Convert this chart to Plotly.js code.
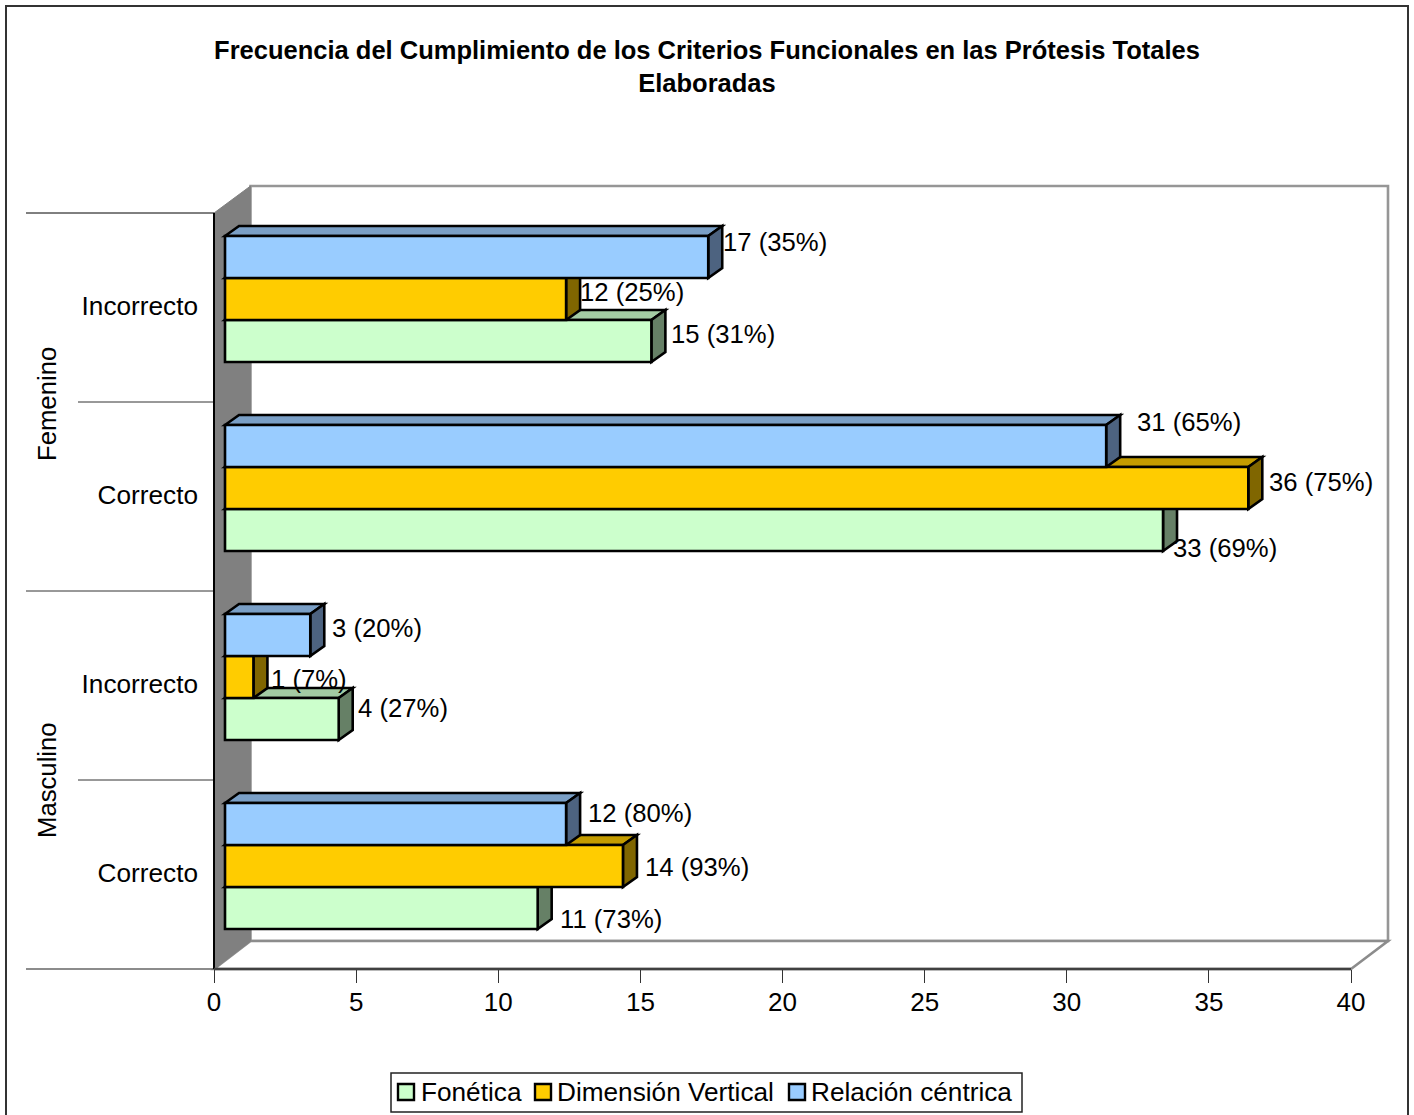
<!DOCTYPE html>
<html><head><meta charset="utf-8">
<script src="https://cdn.plot.ly/plotly-3.0.1.min.js"></script>
<style>html,body{margin:0;padding:0;background:#fff;overflow:hidden}</style>
</head><body><div id="chart" style="width:1414px;height:1115px"></div>
<script>
// ---- data (bottom band first) ----
const categories = ['Correcto','Incorrecto','Correcto','Incorrecto'];
const groups = ['Masculino','Femenino'];
const seriesNames = ['Fonética','Dimensión Vertical','Relación céntrica'];
const fonetica = [11,4,33,15];
const dimension = [14,1,36,12];
const relacion = [12,3,31,17];
const foneticaPct = [73,27,69,31];
const dimensionPct = [93,7,75,25];
const relacionPct = [80,20,65,35];
const xTicks = [0,5,10,15,20,25,30,35,40];

// ---- layout constants (pixels of the page) ----
const W=1414,H=1115,L=214,R=1388,T=186,B=969;
const pxPerUnit=(1351-214)/40, pxPerBand=189;
const depthX=14, depthY=10, wallX=37, wallY=28;
const barShift=11/pxPerUnit, lift=8.5/pxPerBand;
const dx=depthX/pxPerUnit, dy=depthY/pxPerBand;
const barH=42/pxPerBand;
const FONT='"Liberation Sans", Arial, sans-serif';
const FS=25.7;
const px=x=>(x-L)/(R-L), py=y=>(B-y)/(B-T);
const seriesVals=[fonetica,dimension,relacion];
const seriesPct=[foneticaPct,dimensionPct,relacionPct];
const front=['#CCFFCC','#FFCC00','#99CCFF'];
const topC=['#A3CCA3','#C49C00','#7A9FC6'];
const sideC=['#668066','#806600','#4D6380'];
const bandY=categories.map((c,i)=>i+0.5);
const barY=bandY.map(v=>v+lift);
const OUT=2.6;

const shapes=[];
const pLine=(x0,y0,x1,y1,color,width)=>shapes.push({type:'line',xref:'paper',yref:'paper',layer:'below',
  x0:px(x0),y0:py(y0),x1:px(x1),y1:py(y1),line:{color,width}});
const pPoly=(pts,fill,color,width)=>shapes.push({type:'path',xref:'paper',yref:'paper',layer:'below',
  path:'M'+pts.map(p=>px(p[0])+','+py(p[1])).join('L')+'Z',fillcolor:fill,line:{color,width}});
// frame
shapes.push({type:'rect',xref:'paper',yref:'paper',layer:'below',x0:px(6),x1:px(1408),y0:py(6),y1:py(1130),
  line:{color:'#333333',width:2},fillcolor:'rgba(0,0,0,0)'});
// walls and floor
pPoly([[L+wallX-0.5,T],[R,T],[R,T+755],[L+wallX-0.5,T+755]],'#FFFFFF','#969696',2.6);
pPoly([[L,B],[L+wallX-0.5,B-wallY],[R,B-wallY],[R-wallX,B]],'#FFFFFF','#8C8C8C',2.6);
pPoly([[L,213],[L+wallX-0.5,T],[L+wallX-0.5,B-wallY],[L,B]],'#808080','#808080',1);
// category separators
pLine(26,213,L,213,'#000000',1);
pLine(78,402,L,402,'#333333',1);
pLine(26,591,L,591,'#333333',1);
pLine(78,780,L,780,'#333333',1);
pLine(26,B,L,B,'#666666',1.5);
pLine(L,213,L,B,'#000000',2);
pLine(L,B,1351,B,'#404040',2.5);

// legend box, swatches drawn below with their labels
const legendLeft=[398,535,789];
const annotations=[];
shapes.push({type:'rect',xref:'paper',yref:'paper',layer:'below',x0:px(391),x1:px(1022),y0:py(1073),y1:py(1112),
  line:{color:'#222',width:1.5},fillcolor:'#FFFFFF'});
seriesNames.forEach((n,s)=>{
  shapes.push({type:'rect',xref:'paper',yref:'paper',layer:'above',x0:px(legendLeft[s]),x1:px(legendLeft[s]+16),y0:py(1084),y1:py(1100),
    line:{color:'#000',width:2.4},fillcolor:front[s]});
  annotations.push({xref:'paper',yref:'paper',x:px(legendLeft[s]+(s?21:22)),y:py(1092),xanchor:'left',yanchor:'middle',showarrow:false,
    borderpad:0,text:n,font:{family:FONT,size:26.2,color:'#000'}});
});

// 3D faces of every bar, computed from the values
seriesVals.forEach((vals,s)=>{
  vals.forEach((v,i)=>{
    const y1=barY[i]+barH*(s-1)+barH/2, y0=y1-barH;
    const x0=barShift, x1=barShift+v;
    shapes.push({type:'path',xref:'x',yref:'y',layer:'below',fillcolor:topC[s],line:{color:'#000',width:OUT},
      path:`M${x0},${y1}L${x0+dx},${y1+dy}L${x1+dx},${y1+dy}L${x1},${y1}Z`});
    shapes.push({type:'path',xref:'x',yref:'y',layer:'below',fillcolor:sideC[s],line:{color:'#000',width:OUT},
      path:`M${x1},${y1}L${x1+dx},${y1+dy}L${x1+dx},${y0+dy}L${x1},${y0}Z`});
  });
});

const traces=seriesVals.map((vals,s)=>({type:'bar',orientation:'h',name:seriesNames[s],x:vals,y:barY,
  base:vals.map(()=>barShift),marker:{color:front[s],line:{color:'#000',width:OUT}},hoverinfo:'x+name'}));

// per-label nudges, in pixels: [gap from bar end, upward shift]
const labelNudge=[
  [[22,-12],[19,10],[10,-19],[20,6]],
  [[22,-2],[18,-3],[21,5],[14,6]],
  [[22,10],[22,6],[31,23],[15,14]]
];
seriesVals.forEach((vals,s)=>vals.forEach((v,i)=>annotations.push({
  xref:'x',yref:'y',x:barShift+v,y:barY[i]+barH*(s-1),xanchor:'left',yanchor:'middle',showarrow:false,
  xshift:labelNudge[s][i][0]-1,yshift:labelNudge[s][i][1]+1,text:`${v} (${seriesPct[s][i]}%)`,
  font:{family:FONT,size:FS,color:'#000'},borderpad:0})));
[[groups[0],780],[groups[1],404]].forEach(g=>annotations.push({xref:'paper',yref:'paper',x:px(47),y:py(g[1]),
  text:g[0],textangle:-90,showarrow:false,xanchor:'center',yanchor:'middle',font:{family:FONT,size:FS,color:'#000'}}));

Plotly.newPlot('chart',traces,{
  width:W,height:H,margin:{l:L,r:W-R,t:T,b:H-B,pad:0,autoexpand:false},
  paper_bgcolor:'#FFFFFF',plot_bgcolor:'rgba(0,0,0,0)',
  title:{text:'Frecuencia del Cumplimiento de los Criterios Funcionales en las Prótesis Totales<br>Elaboradas',
    font:{family:FONT,size:25.5,color:'#000',weight:'bold'},x:707/W,xanchor:'center',xref:'container',y:1-59/H,yref:'container',yanchor:'top'},
  barmode:'group',bargap:1/3,bargroupgap:0,
  xaxis:{range:[0,(R-L)/pxPerUnit],tickvals:xTicks,ticktext:xTicks.map(String),ticks:'outside',ticklen:13,tickwidth:1,tickcolor:'#333',
    ticklabelstandoff:-3,showgrid:false,zeroline:false,showline:false,tickfont:{family:FONT,size:26,color:'#000'},fixedrange:true},
  yaxis:{range:[0,(B-T)/pxPerBand],tickvals:bandY.map(v=>v+2/pxPerBand),ticktext:categories,ticks:'',ticklabelstandoff:15,
    showgrid:false,zeroline:false,showline:false,tickfont:{family:FONT,size:26.2,color:'#000'},fixedrange:true},
  showlegend:false,shapes,annotations
},{staticPlot:true,displayModeBar:false});
</script></body></html>
